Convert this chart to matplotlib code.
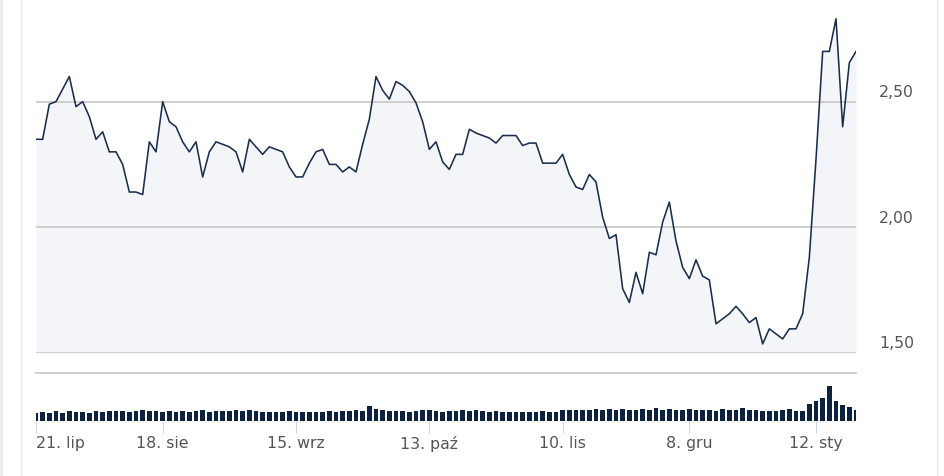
import numpy as np
import matplotlib
matplotlib.use("Agg")
import matplotlib.pyplot as plt
from matplotlib.lines import Line2D
from matplotlib.patches import Rectangle

# daily closing price, 21 Jul 2023 -> mid Jan 2024 (one value per session)
price = [
    2.35, 2.35, 2.49, 2.50, 2.55, 2.60, 2.48, 2.50, 2.44, 2.35,
    2.38, 2.30, 2.30, 2.25, 2.14, 2.14, 2.13, 2.34, 2.30, 2.50,
    2.42, 2.40, 2.34, 2.30, 2.34, 2.20, 2.30, 2.34, 2.33, 2.32,
    2.30, 2.22, 2.35, 2.32, 2.29, 2.32, 2.31, 2.30, 2.24, 2.20,
    2.20, 2.255, 2.30, 2.31, 2.25, 2.25, 2.22, 2.24, 2.22, 2.33,
    2.43, 2.60, 2.545, 2.51, 2.58, 2.565, 2.54, 2.495, 2.42, 2.31,
    2.34, 2.26, 2.23, 2.29, 2.29, 2.39, 2.375, 2.365, 2.355, 2.335,
    2.365, 2.365, 2.365, 2.325, 2.335, 2.335, 2.255, 2.255, 2.255, 2.29,
    2.21, 2.16, 2.15, 2.21, 2.18, 2.04, 1.955, 1.97, 1.755, 1.70,
    1.82, 1.735, 1.90, 1.89, 2.02, 2.10, 1.945, 1.84, 1.795, 1.87,
    1.805, 1.79, 1.615, 1.635, 1.655, 1.685, 1.655, 1.62, 1.64, 1.535,
    1.595, 1.575, 1.555, 1.595, 1.595, 1.655, 1.88, 2.27, 2.70, 2.70,
    2.83, 2.40, 2.655, 2.70,
]

# traded volume (thousands)
volume = [
    8, 9, 8, 10, 8, 10, 9, 9, 8, 10, 9, 10, 10, 10, 9, 10, 11, 10, 10, 9,
    10, 9, 10, 9, 10, 11, 9, 10, 10, 10, 11, 10, 11, 10, 9, 9, 9, 9, 10, 9,
    9, 9, 9, 9, 10, 9, 10, 10, 11, 10, 15, 12, 11, 10, 10, 10, 9, 10, 11, 11,
    10, 9, 10, 10, 11, 10, 11, 10, 9, 10, 9, 9, 9, 9, 9, 9, 10, 9, 9, 11,
    11, 11, 11, 11, 12, 11, 12, 11, 12, 11, 11, 12, 11, 13, 11, 12, 11, 11, 12, 11,
    11, 11, 10, 12, 11, 11, 13, 11, 11, 10, 10, 10, 11, 12, 10, 10, 17, 20, 23, 35,
    20, 16, 14, 11,
]

tick_idx = [0, 19, 39, 59, 79, 98, 117]
tick_labels = ["21. lip", "18. sie", "15. wrz", "13. paź", "10. lis", "8. gru", "12. sty"]
yticks = [1.5, 2.0, 2.5]
ylabels = ["1,50", "2,00", "2,50"]

x = np.arange(len(price))
W, H = 945, 476
line_col = "#1a2e4c"
grid_col = "#cccccc"
text_col = "#555555"

fig = plt.figure(figsize=(W / 100, H / 100), dpi=100)

# container borders
fig.add_artist(Rectangle((0, 0), 3 / W, 1, transform=fig.transFigure,
                         color="#eeeeee", lw=0))
fig.add_artist(Line2D([20.5 / W] * 2, [0, 1], transform=fig.transFigure,
                      color="#e8e8e8", lw=1))
fig.add_artist(Line2D([937.5 / W] * 2, [0, 1], transform=fig.transFigure,
                      color="#e8e8e8", lw=1))

# --- price panel ---
ax = fig.add_axes([36 / W, 1 - 352.7 / H, 820 / W, (352.7 - 10) / H])
ax.set_xlim(0, len(price) - 1)
ax.set_ylim(1.5, 2.865)
ax.fill_between(x, price, 1.5, color="#f4f5f8", lw=0, zorder=1)
for v in yticks:
    ax.axhline(v, color=grid_col, lw=1.3, zorder=1.5)
ax.plot(x, price, color=line_col, lw=1.15, zorder=2)
for s in ax.spines.values():
    s.set_visible(False)
ax.set_xticks([])
ax.set_yticks([])
for v, lab in zip(yticks, ylabels):
    ax.annotate(lab, xy=(1, v), xycoords=("axes fraction", "data"),
                xytext=(16.5, 6.3), textcoords="offset points",
                ha="left", va="center", fontsize=11.3, color=text_col)

# --- volume panel ---
axv = fig.add_axes([36 / W, 1 - 421 / H, 820 / W, 47.7 / H])
axv.bar(x, volume, width=0.7, color="#0d2240", lw=0)
axv.set_xlim(0, len(price) - 1)
axv.set_ylim(0, 47.7)
for name, s in axv.spines.items():
    s.set_visible(name == "top")
axv.spines["top"].set_color(grid_col)
axv.spines["top"].set_linewidth(1.3)
axv.set_yticks([])
axv.set_xticks(tick_idx)
axv.set_xticklabels(tick_labels)
axv.tick_params(axis="x", length=8.6, width=0.8, color="#ccd6eb", pad=2,
                labelsize=11.3, labelcolor=text_col)
axv.get_xticklabels()[0].set_ha("left")

fig.savefig("out.png", dpi=100)
